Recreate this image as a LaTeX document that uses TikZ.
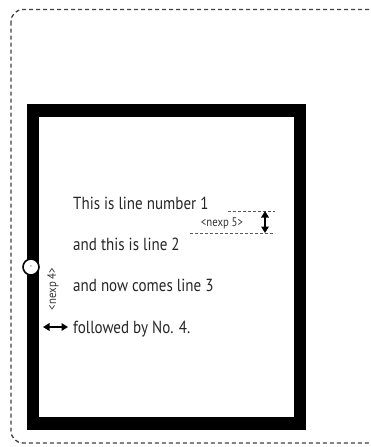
\documentclass[tikz,border=0pt]{standalone}
\usepackage{fontspec}
\setmainfont{PT Sans}[FakeStretch=0.86]
\usetikzlibrary{arrows.meta}
\tikzset{
  line/.style={font=\fontsize{17.5}{20}\selectfont,anchor=base west,inner sep=0pt,text=black!85},
  nexp/.style={font=\fontsize{12.5}{14}\selectfont,inner sep=0pt,text=black!80},
  guide/.style={thin,black!65,dash pattern=on 3pt off 2pt},
  dim/.style={line width=1.9pt,{Triangle[length=6.5pt,width=7.5pt]}-{Triangle[length=6.5pt,width=7.5pt]}},
}
\begin{document}
\begin{tikzpicture}[x=1pt,y=-1pt]
        \useasboundingbox (0,0) rectangle (370,447);
        \draw[black!75,line width=1.3pt,dash pattern=on 4pt off 3pt,rounded corners=12pt]
            (11,9.5) rectangle (383,443); % outer box
        \draw[line width=12.5pt] (33,110.5) rectangle (300,423.5); % frame

        \path
            (73,209) node(l1)[line] {This is line number 1}
            (73,250) node(l2)[line] {and this is line 2}
            (73,291) node(l3)[line] {and now comes line 3}
            (73,333) node(l4)[line] {followed by No. 4.};

        % nexp 5
        \coordinate (t5a) at (228,211);
        \coordinate (t5b) at (275,211);
        \coordinate (b5a) at (190,233);
        \coordinate (b5b) at (275,233);
        \coordinate (a5t) at (265,211);
        \coordinate (a5b) at (265,233);
        \draw[guide] (t5a) -- (t5b)
            (b5a) -- (b5b);
        \draw[dim] (a5t) -- (a5b);
        \node(n5)[nexp] at (222,223) {<nexp 5>};

        % nexp 4
        \node(c4)[circle,draw,fill=white,line width=1.6pt,minimum size=16pt,inner sep=0pt,
            font=\fontsize{7}{7}\selectfont] at (31,267) {-};
        \node(n4)[nexp,rotate=90] at (53,289) {<nexp 4>};
        \coordinate (a4l) at (43,327);
        \coordinate (a4r) at (68,327);
        \draw[dim] (a4l) -- (a4r);
\end{tikzpicture}
\end{document}
